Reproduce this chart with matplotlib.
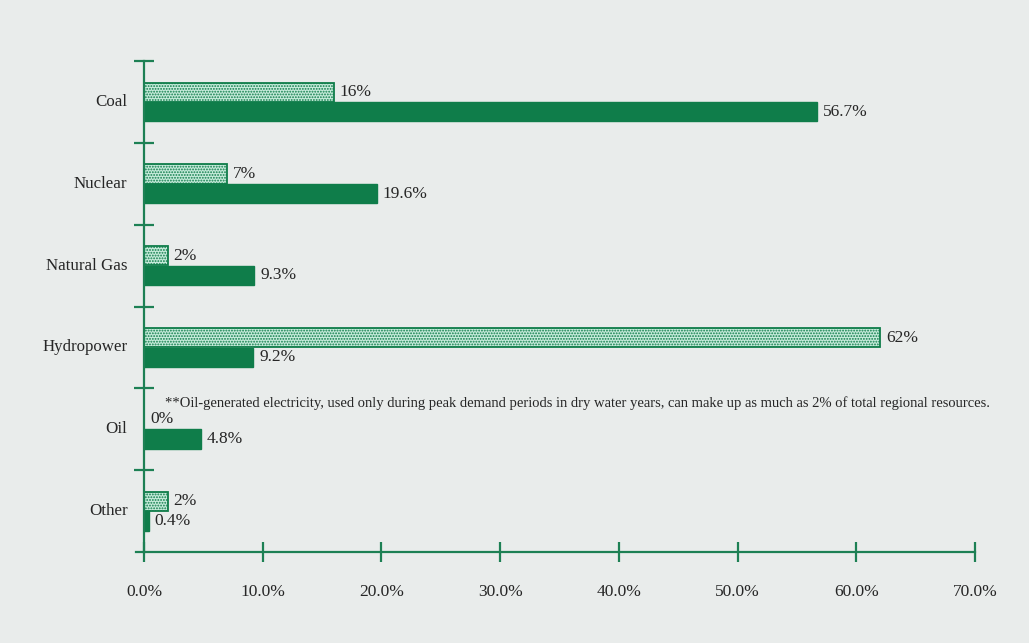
import matplotlib
matplotlib.use('Agg')
import matplotlib.pyplot as plt
import numpy as np

# fuel mix: regional share (light) vs national share (dark)
categories = ['Coal', 'Nuclear', 'Natural Gas', 'Hydropower', 'Oil', 'Other']
regional = [16, 7, 2, 62, 0, 2]
national = [56.7, 19.6, 9.3, 9.2, 4.8, 0.4]
regional_labels = ['16%', '7%', '2%', '62%', '0%', '2%']
national_labels = ['56.7%', '19.6%', '9.3%', '9.2%', '4.8%', '0.4%']
xticks = [0, 10, 20, 30, 40, 50, 60, 70]
footnote = ('**Oil-generated electricity, used only during peak demand periods in dry '
            'water years, can make up as much as 2% of total regional resources.')

DARK = '#0f7d4a'
LIGHT = '#c6ebdb'
AXIS = '#1d8054'
TEXT = '#262626'

plt.rcParams['font.family'] = ['Liberation Serif', 'DejaVu Serif']
plt.rcParams['hatch.color'] = '#2f7a5a'
plt.rcParams['hatch.linewidth'] = 0.9

fig = plt.figure(figsize=(10.29, 6.43), dpi=100, facecolor='#e9eceb')
ax = fig.add_axes([0.140, 0.1415, 0.8075, 0.7635])
ax.set_facecolor('none')

n = len(categories)
centers = np.arange(n)[::-1] + 0.5
h = 0.235

ax.barh(centers + 0.12, regional, height=h, color=LIGHT, edgecolor=DARK,
        linewidth=1.3, hatch='......', zorder=2)
ax.barh(centers - 0.12, national, height=h, color=DARK, edgecolor=DARK,
        linewidth=1.0, zorder=2)

for c, v, lab in zip(centers, regional, regional_labels):
    ax.text(v + 0.5, c + 0.12, lab, va='center', ha='left', fontsize=12.5, color=TEXT)
for c, v, lab in zip(centers, national, national_labels):
    ax.text(v + 0.5, c - 0.12, lab, va='center', ha='left', fontsize=12.5, color=TEXT)

ax.text(1.8, 1.82, footnote, va='center', ha='left', fontsize=10.55, color=TEXT)

ax.set_xlim(0, 70)
ax.set_ylim(0, 6)

for s in ['top', 'right']:
    ax.spines[s].set_visible(False)
for s in ['left', 'bottom']:
    ax.spines[s].set_color(AXIS)
    ax.spines[s].set_linewidth(1.6)

ax.set_xticks(xticks)
ax.set_xticklabels([f'{t:.1f}%' for t in xticks], fontsize=12.5, color=TEXT)
ax.tick_params(axis='x', direction='inout', length=14, width=1.6, color=AXIS, pad=16)

# category boundaries as ticks, names placed at bar centers
ax.set_yticks([1, 2, 3, 4, 5, 6])
ax.set_yticklabels([])
ax.tick_params(axis='y', direction='inout', length=15, width=1.6, color=AXIS)
for c, name in zip(centers, categories):
    ax.text(-1.4, c, name, va='center', ha='right', fontsize=12.2, color=TEXT)

# x axis extends slightly left of the y axis
ax.plot([-0.65, 0], [0, 0], color=AXIS, lw=1.6, clip_on=False, zorder=3)

fig.savefig('out.png', dpi=100, facecolor=fig.get_facecolor())
